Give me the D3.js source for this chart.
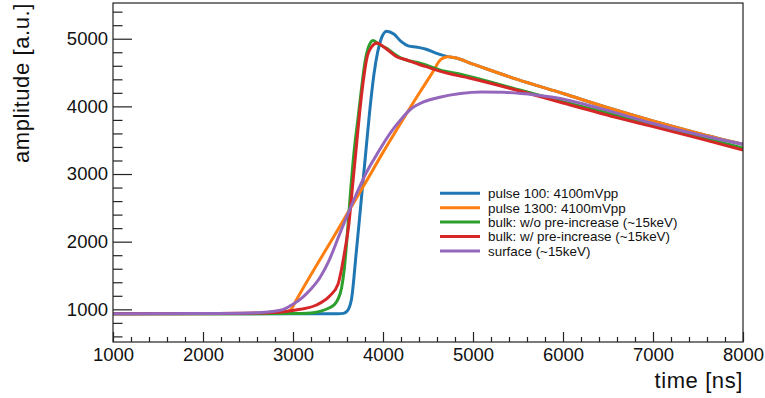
<!DOCTYPE html>
<html>
<head>
<meta charset="utf-8">
<script src="https://cdn.jsdelivr.net/npm/d3@7"></script>
<style>
  body { margin: 0; background: #fff; }
  text { font-family: "Liberation Sans", Arial, Helvetica, sans-serif; fill: #111; }
</style>
</head>
<body>
<svg id="canvas" width="765" height="398"></svg>
<script>
// canvas and frame
const width = 765, height = 398;
const frame = { left: 113, right: 743, top: 3, bottom: 342 };

// axis ranges and ticks
const xDomain = [1000, 8000];
const yDomain = [517, 5528];
const xTicks = [1000, 2000, 3000, 4000, 5000, 6000, 7000, 8000];
const yTicks = [1000, 2000, 3000, 4000, 5000];

// series (time in ns, amplitude in a.u.)
const pulse100T = [1000, 2000, 3000, 3500, 3560, 3600, 3650, 3700, 3750, 3800, 3850, 3900, 3940, 3980, 4040, 4120, 4200, 4280, 4380, 4480, 4580, 4720, 4800, 5000, 5500, 6000, 6500, 7000, 7500, 8000];
const pulse100A = [935, 935, 935, 935, 940, 970, 1150, 1800, 2500, 3200, 3900, 4480, 4800, 5000, 5112, 5070, 4960, 4895, 4875, 4845, 4790, 4735, 4718, 4625, 4395, 4190, 3980, 3785, 3605, 3440];

const pulse1300T = [1000, 2000, 2700, 2900, 2980, 3030, 3500, 3800, 4000, 4200, 4400, 4550, 4640, 4720, 4800, 5000, 5500, 6000, 6500, 7000, 7500, 8000];
const pulse1300A = [935, 935, 937, 945, 1000, 1120, 2180, 2860, 3320, 3760, 4190, 4500, 4690, 4732, 4718, 4625, 4395, 4190, 3980, 3785, 3605, 3440];

const bulkNoPreT = [1000, 2000, 3000, 3200, 3300, 3400, 3460, 3500, 3540, 3570, 3600, 3640, 3680, 3720, 3760, 3800, 3840, 3890, 3940, 4040, 4115, 4190, 4300, 4410, 4520, 4630, 4860, 4970, 5520, 6000, 6630, 7000, 7500, 8000];
const bulkNoPreA = [935, 935, 937, 945, 970, 1020, 1070, 1150, 1320, 1600, 2050, 2750, 3350, 3800, 4250, 4660, 4880, 4975, 4930, 4858, 4784, 4720, 4670, 4640, 4590, 4540, 4474, 4440, 4242, 4070, 3857, 3730, 3560, 3384];

const bulkPreT = [1000, 2000, 2600, 2900, 3080, 3260, 3410, 3500, 3540, 3580, 3620, 3660, 3700, 3740, 3780, 3820, 3875, 3937, 4004, 4078, 4152, 4263, 4411, 4520, 4630, 4970, 5520, 6000, 6630, 7000, 7500, 8000];
const bulkPreA = [935, 937, 945, 965, 1000, 1064, 1200, 1370, 1600, 1900, 2250, 2800, 3350, 3900, 4365, 4710, 4882, 4935, 4882, 4808, 4734, 4685, 4615, 4570, 4520, 4415, 4227, 4050, 3823, 3700, 3530, 3355];

const surfaceT = [1000, 2000, 2520, 2860, 3000, 3100, 3200, 3300, 3400, 3500, 3600, 3700, 3800, 3900, 4000, 4100, 4190, 4300, 4450, 4630, 4860, 5100, 5340, 5700, 5890, 6410, 6970, 7520, 8000];
const surfaceA = [935, 938, 945, 985, 1075, 1170, 1300, 1470, 1720, 2050, 2380, 2690, 2980, 3220, 3440, 3640, 3790, 3950, 4065, 4135, 4190, 4212, 4207, 4168, 4134, 3971, 3758, 3577, 3439];

const seriesNames = ["pulse 100: 4100mVpp", "pulse 1300: 4100mVpp", "bulk: w/o pre-increase (~15keV)", "bulk: w/ pre-increase (~15keV)", "surface (~15keV)"];
const seriesColors = ["#1f77b4", "#ff7f0e", "#2ca02c", "#d62728", "#9467bd"];
const seriesT = [pulse100T, pulse1300T, bulkNoPreT, bulkPreT, surfaceT];
const seriesA = [pulse100A, pulse1300A, bulkNoPreA, bulkPreA, surfaceA];

const svg = d3.select("#canvas");

const x = d3.scaleLinear().domain(xDomain).range([frame.left, frame.right]);
const y = d3.scaleLinear().domain(yDomain).range([frame.bottom, frame.top]);

// minor ticks every 200
const xMinor = d3.range(1200, 8000, 200).filter(v => v % 1000 !== 0);
const yMinor = d3.range(600, 5528, 200).filter(v => v % 1000 !== 0);

// curves (clipped to frame)
svg.append("clipPath").attr("id", "clip")
  .append("rect")
  .attr("x", frame.left).attr("y", frame.top)
  .attr("width", frame.right - frame.left).attr("height", frame.bottom - frame.top);

const line = d3.line()
  .x(d => x(d[0]))
  .y(d => y(d[1]))
  .curve(d3.curveMonotoneX);

const plot = svg.append("g").attr("clip-path", "url(#clip)");
seriesT.forEach((ts, i) => {
  plot.append("path")
    .datum(ts.map((t, j) => [t, seriesA[i][j]]))
    .attr("fill", "none")
    .attr("stroke", seriesColors[i])
    .attr("stroke-width", 3)
    .attr("stroke-linejoin", "round")
    .attr("d", line);
});

// frame
svg.append("rect")
  .attr("x", frame.left).attr("y", frame.top)
  .attr("width", frame.right - frame.left).attr("height", frame.bottom - frame.top)
  .attr("fill", "none").attr("stroke", "#222").attr("stroke-width", 1.2);

// axes, ROOT style: ticks point inside the frame
svg.append("g").attr("transform", `translate(0,${frame.bottom})`)
  .call(d3.axisBottom(x).tickValues(xTicks).tickSize(-10).tickPadding(6).tickFormat(d3.format("d")));
svg.append("g").attr("transform", `translate(0,${frame.bottom})`)
  .call(d3.axisBottom(x).tickValues(xMinor).tickSize(-5).tickFormat(""));

svg.append("g").attr("transform", `translate(${frame.left},0)`)
  .call(d3.axisLeft(y).tickValues(yTicks).tickSize(-19).tickPadding(5).tickFormat(d3.format("d")));
svg.append("g").attr("transform", `translate(${frame.left},0)`)
  .call(d3.axisLeft(y).tickValues(yMinor).tickSize(-9.5).tickFormat(""));

svg.selectAll(".domain").remove();
svg.selectAll(".tick line").attr("stroke", "#222").attr("stroke-width", 1.2);
svg.selectAll(".tick text")
  .style("font-family", "'Liberation Sans', Arial, sans-serif")
  .attr("font-size", 18.5).attr("fill", "#111");

// axis titles
svg.append("text")
  .attr("x", frame.right).attr("y", 388)
  .attr("text-anchor", "end")
  .attr("font-size", 22)
  .style("letter-spacing", "0.6px")
  .text("time [ns]");

svg.append("text")
  .attr("transform", `translate(29,${frame.top}) rotate(-90)`)
  .attr("text-anchor", "end")
  .attr("font-size", 22)
  .style("letter-spacing", "0.6px")
  .text("amplitude [a.u.]");

// legend
const legend = svg.append("g");
seriesNames.forEach((name, i) => {
  const ly = 193.3 + i * 14.4;
  legend.append("line")
    .attr("x1", 440).attr("x2", 480).attr("y1", ly).attr("y2", ly)
    .attr("stroke", seriesColors[i]).attr("stroke-width", 3);
  legend.append("text")
    .attr("x", 488).attr("y", ly).attr("dy", "0.36em")
    .attr("font-size", 13.4)
    .text(name);
});
</script>
</body>
</html>
